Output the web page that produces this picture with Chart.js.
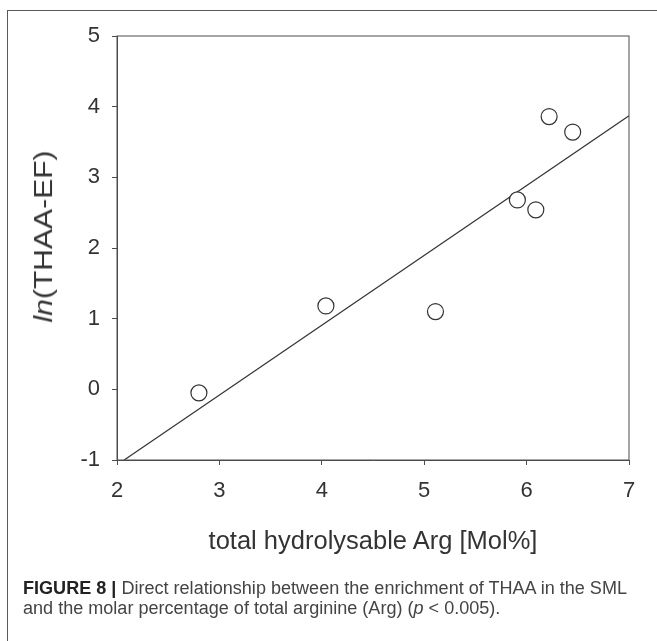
<!DOCTYPE html>
<html>
<head>
<meta charset="utf-8">
<script src="https://cdn.jsdelivr.net/npm/chart.js@4"></script>
<style>
  html, body { margin: 0; padding: 0; background: #fff; }
  body { width: 657px; height: 641px; position: relative; overflow: hidden; font-family: "Liberation Sans", Arial, sans-serif; }
  #frame { position: absolute; left: 7px; top: 10px; width: 660px; height: 700px; border-left: 1.5px solid #5a5a5a; border-top: 1.5px solid #5a5a5a; }
  #chartWrap { position: absolute; left: 0; top: 0; width: 657px; height: 641px; }
  #yTitle { position: absolute; left: 43px; top: 236px; white-space: nowrap; font-size: 25px; line-height: 25px; color: #333; }
  #xTitle { position: absolute; left: 373px; top: 528px; transform: translateX(-50%); white-space: nowrap; font-size: 25.5px; line-height: 25px; color: #333; }
  #caption { position: absolute; left: 23px; top: 578px; font-size: 18px; line-height: 20px; color: #444; transform-origin: 0 0; }
  #caption div { white-space: nowrap; }
  #caption b { color: #222; }
</style>
</head>
<body>
<div id="frame"></div>
<div id="chartWrap"><canvas id="thaaChart" width="657" height="641"></canvas></div>
<div id="yTitle"><i>ln</i>(THAA-EF)</div>
<div id="xTitle">total hydrolysable Arg [Mol%]</div>
<div id="caption">
  <div id="capLine1"><b>FIGURE 8 |</b> Direct relationship between the enrichment of THAA in the SML</div>
  <div>and the molar percentage of total arginine (Arg) (<i>p</i> &lt; 0.005).</div>
</div>
<script>
// Data
const argMolPct = [2.80, 4.04, 5.11, 5.91, 6.09, 6.22, 6.45];
const lnThaaEf  = [-0.05, 1.18, 1.10, 2.68, 2.54, 3.86, 3.64];

// Regression line end points
const fitX = [2.07, 7];
const fitY = [-1, 3.87];

// Tick labels
const xTickLabels = ['2', '3', '4', '5', '6', '7'];
const yTickLabels = ['-1', '0', '1', '2', '3', '4', '5'];

const axisColor = '#4d4d4d';

// Box round the plot area
const boxPlugin = {
    id: 'plotBox',
    afterDraw(chart) {
        const { ctx, chartArea } = chart;
        ctx.save();
        ctx.strokeStyle = axisColor;
        ctx.lineWidth = 1;
        ctx.strokeRect(chartArea.left, chartArea.top, chartArea.right - chartArea.left, chartArea.bottom - chartArea.top);
        ctx.restore();
    }
};

const ctx = document.getElementById('thaaChart').getContext('2d');
const thaaChart = new Chart(ctx, {
    type: 'scatter',
    data: {
        datasets: [{
            label: 'samples',
            data: argMolPct.map((x, i) => ({ x: x, y: lnThaaEf[i] })),
            pointRadius: 8,
            pointBorderWidth: 1.2,
            pointBorderColor: '#333',
            pointBackgroundColor: '#fff',
            order: 1
        }, {
            type: 'line',
            label: 'fit',
            data: fitX.map((x, i) => ({ x: x, y: fitY[i] })),
            borderColor: '#333',
            borderWidth: 1.2,
            pointRadius: 0,
            fill: false,
            order: 2
        }]
    },
    options: {
        responsive: false,
        devicePixelRatio: 1,
        animation: false,
        layout: { padding: { left: 0, top: 36, right: 28, bottom: 0 } },
        plugins: {
            legend: { display: false },
            tooltip: { enabled: false }
        },
        scales: {
            x: {
                type: 'linear',
                min: 2,
                max: 7,
                afterFit: function(scale) {
                    scale.height = 181;
                    scale.paddingLeft = 0; scale.paddingRight = 0;
                    scale.paddingTop = 0; scale.paddingBottom = 0;
                },
                grid: { drawOnChartArea: false, tickLength: 5, color: axisColor, tickColor: axisColor },
                border: { color: axisColor, width: 1 },
                ticks: {
                    stepSize: 1,
                    padding: 13,
                    color: '#333',
                    font: { family: '"Liberation Sans", Arial', size: 22 },
                    callback: function(value) {
                        return xTickLabels[Math.round(value) - 2];
                    }
                }
            },
            y: {
                type: 'linear',
                min: -1,
                max: 5,
                afterFit: function(scale) {
                    scale.width = 117;
                    scale.paddingLeft = 0; scale.paddingRight = 0;
                    scale.paddingTop = 0; scale.paddingBottom = 0;
                },
                grid: { drawOnChartArea: false, tickLength: 5, color: axisColor, tickColor: axisColor },
                border: { color: axisColor, width: 1 },
                ticks: {
                    stepSize: 1,
                    padding: 12,
                    color: '#333',
                    font: { family: '"Liberation Sans", Arial', size: 22 },
                    callback: function(value) {
                        return yTickLabels[Math.round(value) + 1];
                    }
                }
            }
        }
    },
    plugins: [boxPlugin]
});

// Stretch the caption so its first line spans the same width as the original
const cap = document.getElementById('caption');
const line1Width = document.getElementById('capLine1').getBoundingClientRect().width;
cap.style.transform = 'scaleX(' + (604 / line1Width) + ')';

// Y title: rotate and stretch so it runs from about y=150 to y=322
const yTitle = document.getElementById('yTitle');
const yw = yTitle.offsetWidth, yh = yTitle.offsetHeight;
yTitle.style.left = (43 - yw / 2) + 'px';
yTitle.style.top = (236 - yh / 2) + 'px';
yTitle.style.transform = 'rotate(-90deg) scaleX(' + (172 / yw) + ')';
</script>
</body>
</html>
